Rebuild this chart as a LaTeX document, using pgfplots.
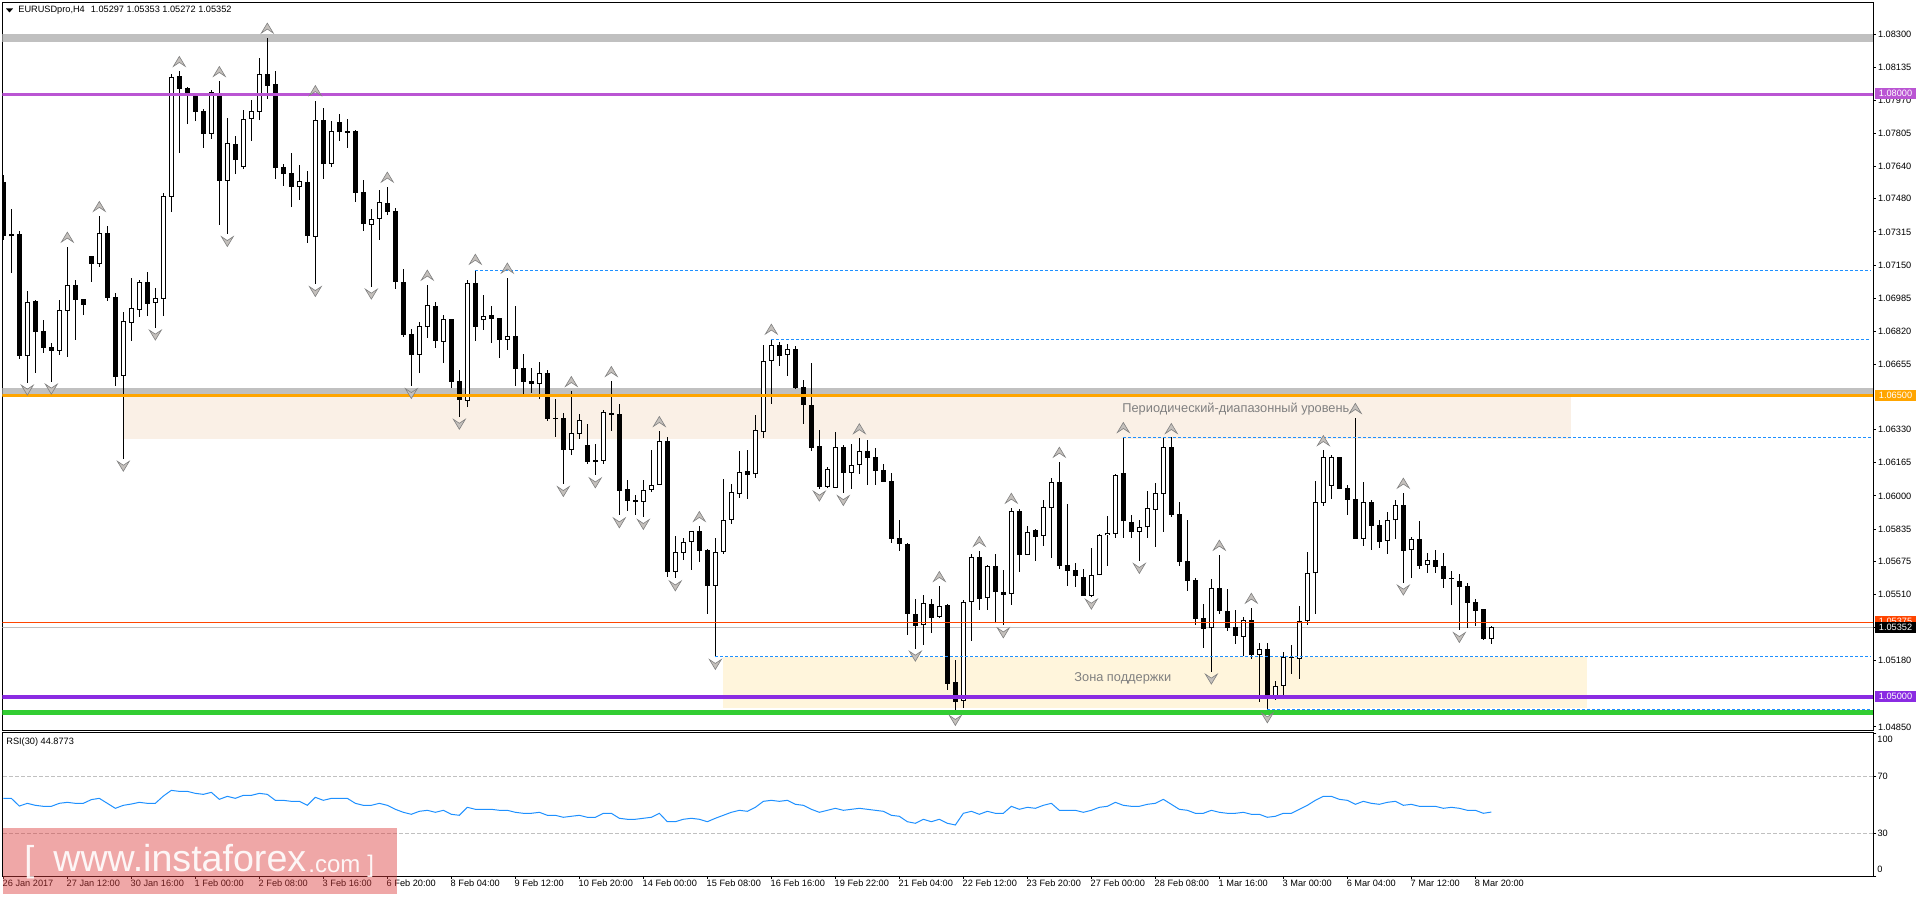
\documentclass[border=0pt]{standalone}
\usepackage{fontspec}
\setmainfont{Liberation Sans}
\usepackage{pgfplots}
\usepackage{pgfplotstable}
\pgfplotsset{compat=1.18}
\definecolor{peach}{HTML}{FAF0E6}
\definecolor{cream}{HTML}{FFF5DC}
\definecolor{band}{HTML}{C0C0C0}
\definecolor{orchidl}{HTML}{BA55D3}
\definecolor{orangel}{HTML}{FFA500}
\definecolor{violetl}{HTML}{8A2BE2}
\definecolor{greenl}{HTML}{32CD32}
\definecolor{redl}{HTML}{FF4500}
\definecolor{dodger}{HTML}{1E90FF}
\definecolor{wm}{HTML}{DC3C3C}
\definecolor{fdark}{HTML}{808080}
\definecolor{flight}{HTML}{C4C0BC}
% fractal arrows
\pgfdeclareplotmark{fup}{%
 \pgfpathmoveto{\pgfqpoint{0pt}{2.6pt}}\pgfpathlineto{\pgfqpoint{-3pt}{-2.4pt}}%
 \pgfpathlineto{\pgfqpoint{0pt}{-0.4pt}}\pgfpathlineto{\pgfqpoint{3pt}{-2.4pt}}\pgfpathclose\pgfusepathqfillstroke}
\pgfdeclareplotmark{fdown}{%
 \pgfpathmoveto{\pgfqpoint{0pt}{-2.6pt}}\pgfpathlineto{\pgfqpoint{-3pt}{2.4pt}}%
 \pgfpathlineto{\pgfqpoint{0pt}{0.4pt}}\pgfpathlineto{\pgfqpoint{3pt}{2.4pt}}\pgfpathclose\pgfusepathqfillstroke}
% i high bodytop bodybottom low  (white candles: open=bodybottom, close=bodytop)
\pgfplotstableread{
i h t b l
1 1.07429 1.07303 1.07293 1.07112
3 1.07021 1.06964 1.06699 1.06564
7 1.06976 1.06925 1.06724 1.06704
8 1.07240 1.07049 1.06923 1.06694
12 1.07394 1.07308 1.07157 1.07142
15 1.06916 1.06870 1.06599 1.06183
16 1.07086 1.06935 1.06863 1.06773
17 1.07076 1.07064 1.06928 1.06893
19 1.07036 1.06984 1.06963 1.06837
20 1.07507 1.07492 1.06983 1.06896
21 1.08101 1.08085 1.07491 1.07414
26 1.08022 1.08012 1.07804 1.07778
28 1.07882 1.07756 1.07570 1.07305
30 1.07922 1.07876 1.07640 1.07628
31 1.07972 1.07916 1.07879 1.07768
32 1.08181 1.08100 1.07914 1.07872
37 1.07648 1.07567 1.07540 1.07474
39 1.07967 1.07871 1.07291 1.07056
41 1.07867 1.07816 1.07655 1.07638
46 1.07429 1.07378 1.07351 1.07041
47 1.07524 1.07462 1.07381 1.07275
52 1.06866 1.06845 1.06704 1.06612
53 1.07051 1.06949 1.06843 1.06787
55 1.06901 1.06880 1.06769 1.06662
58 1.07076 1.07059 1.06475 1.06443
60 1.07001 1.06898 1.06875 1.06827
63 1.07086 1.06795 1.06779 1.06727
67 1.06668 1.06611 1.06560 1.06483
71 1.06523 1.06312 1.06229 1.06204
72 1.06409 1.06377 1.06311 1.06284
75 1.06429 1.06417 1.06176 1.06160
80 1.06080 1.06029 1.05972 1.05896
81 1.06229 1.06053 1.06029 1.06020
82 1.06324 1.06273 1.06057 1.06055
84 1.05801 1.05720 1.05623 1.05592
85 1.05791 1.05770 1.05718 1.05682
86 1.05826 1.05824 1.05770 1.05632
89 1.05791 1.05720 1.05554 1.05198
90 1.06085 1.05879 1.05723 1.05711
91 1.06060 1.06019 1.05882 1.05861
92 1.06224 1.06118 1.06012 1.05990
94 1.06404 1.06327 1.06107 1.06090
95 1.06752 1.06671 1.06321 1.06289
96 1.06777 1.06751 1.06674 1.06458
98 1.06757 1.06731 1.06701 1.06598
103 1.06145 1.06133 1.06045 1.06040
104 1.06319 1.06243 1.06042 1.06040
106 1.06259 1.06153 1.06115 1.06035
107 1.06289 1.06223 1.06153 1.06110
115 1.05507 1.05466 1.05355 1.05258
117 1.05552 1.05451 1.05399 1.05393
120 1.05482 1.05471 1.04978 1.04943
121 1.05711 1.05695 1.05471 1.05280
123 1.05657 1.05650 1.05491 1.05433
126 1.05939 1.05924 1.05511 1.05458
128 1.05851 1.05823 1.05708 1.05706
130 1.05980 1.05944 1.05800 1.05753
131 1.06090 1.06068 1.05939 1.05693
136 1.05741 1.05605 1.05504 1.05497
137 1.05811 1.05804 1.05605 1.05604
138 1.05901 1.05818 1.05804 1.05652
139 1.06110 1.06103 1.05813 1.05791
142 1.05881 1.05843 1.05823 1.05677
143 1.06025 1.05939 1.05843 1.05791
144 1.06065 1.06014 1.05932 1.05746
145 1.06292 1.06243 1.06012 1.05821
151 1.05587 1.05540 1.05340 1.05124
155 1.05398 1.05381 1.05300 1.05202
157 1.05268 1.05237 1.05210 1.04974
159 1.05079 1.05052 1.05004 1.04984
160 1.05223 1.05199 1.05056 1.05009
162 1.05453 1.05376 1.05190 1.05089
163 1.05721 1.05615 1.05375 1.05358
164 1.06075 1.05969 1.05615 1.05413
165 1.06229 1.06193 1.05967 1.05951
166 1.06205 1.06193 1.06052 1.05985
170 1.06070 1.05969 1.05788 1.05751
173 1.05921 1.05879 1.05776 1.05711
174 1.05980 1.05954 1.05878 1.05786
176 1.05796 1.05785 1.05733 1.05592
178 1.05716 1.05680 1.05655 1.05617
186 1.05353 1.05346 1.05290 1.05263
}\upbars
% black candles: open=bodytop, close=bodybottom
\pgfplotstableread{
i h t b l
0 1.07599 1.07562 1.07295 1.07275
2 1.07320 1.07305 1.06699 1.06684
4 1.06976 1.06971 1.06818 1.06614
5 1.06876 1.06822 1.06739 1.06714
6 1.06764 1.06742 1.06724 1.06569
9 1.07076 1.07051 1.06978 1.06777
10 1.06981 1.06981 1.06953 1.06901
11 1.07195 1.07195 1.07155 1.07066
13 1.07345 1.07310 1.06986 1.06971
14 1.07009 1.06991 1.06593 1.06548
18 1.07115 1.07064 1.06958 1.06896
22 1.08116 1.08092 1.08027 1.07708
23 1.08037 1.08032 1.08005 1.07852
24 1.08005 1.07992 1.07914 1.07867
25 1.07927 1.07916 1.07804 1.07733
27 1.08067 1.07992 1.07569 1.07350
29 1.07793 1.07751 1.07673 1.07603
33 1.08281 1.08100 1.08042 1.07977
34 1.08116 1.08052 1.07633 1.07579
35 1.07653 1.07638 1.07603 1.07544
36 1.07708 1.07608 1.07539 1.07439
38 1.07618 1.07564 1.07295 1.07260
40 1.07932 1.07872 1.07653 1.07579
42 1.07902 1.07862 1.07813 1.07768
43 1.07877 1.07816 1.07808 1.07733
44 1.07823 1.07818 1.07509 1.07464
45 1.07574 1.07514 1.07354 1.07320
48 1.07539 1.07459 1.07414 1.07399
49 1.07434 1.07419 1.07066 1.07031
50 1.07130 1.07066 1.06802 1.06792
51 1.06832 1.06807 1.06702 1.06548
54 1.06966 1.06944 1.06772 1.06737
56 1.06881 1.06881 1.06568 1.06538
57 1.06627 1.06573 1.06480 1.06393
59 1.07125 1.07061 1.06843 1.06772
61 1.06946 1.06900 1.06883 1.06762
62 1.06887 1.06885 1.06779 1.06688
64 1.06946 1.06795 1.06634 1.06548
65 1.06707 1.06638 1.06568 1.06503
66 1.06638 1.06573 1.06560 1.06513
68 1.06628 1.06613 1.06384 1.06374
69 1.06483 1.06389 1.06385 1.06294
70 1.06414 1.06387 1.06229 1.06060
73 1.06359 1.06254 1.06170 1.06160
74 1.06259 1.06180 1.06171 1.06105
76 1.06573 1.06414 1.06405 1.06324
77 1.06458 1.06409 1.06025 1.05906
78 1.06080 1.06035 1.05975 1.05926
79 1.06005 1.05979 1.05972 1.05906
83 1.06294 1.06274 1.05622 1.05597
87 1.05851 1.05826 1.05726 1.05672
88 1.05736 1.05731 1.05552 1.05413
93 1.06229 1.06125 1.06105 1.05985
97 1.06767 1.06752 1.06697 1.06648
99 1.06747 1.06732 1.06538 1.06533
100 1.06578 1.06543 1.06454 1.06359
101 1.06663 1.06454 1.06239 1.06224
102 1.06329 1.06249 1.06045 1.06035
105 1.06254 1.06244 1.06115 1.06015
108 1.06279 1.06224 1.06190 1.06055
109 1.06239 1.06195 1.06125 1.06055
110 1.06160 1.06130 1.06070 1.06070
111 1.06115 1.06075 1.05786 1.05766
112 1.05881 1.05791 1.05761 1.05726
113 1.05766 1.05761 1.05413 1.05308
114 1.05487 1.05413 1.05353 1.05238
116 1.05487 1.05462 1.05393 1.05318
118 1.05462 1.05458 1.05064 1.05034
119 1.05184 1.05074 1.04974 1.04920
122 1.05726 1.05695 1.05489 1.05433
124 1.05711 1.05650 1.05524 1.05366
125 1.05632 1.05521 1.05509 1.05358
127 1.05934 1.05924 1.05708 1.05622
129 1.05834 1.05829 1.05798 1.05677
132 1.06170 1.06068 1.05653 1.05637
133 1.05960 1.05655 1.05628 1.05554
134 1.05667 1.05630 1.05599 1.05547
135 1.05637 1.05595 1.05504 1.05502
140 1.06292 1.06113 1.05873 1.05791
141 1.05906 1.05869 1.05821 1.05791
146 1.06292 1.06243 1.05906 1.05896
147 1.05970 1.05909 1.05672 1.05652
148 1.05881 1.05675 1.05579 1.05527
149 1.05592 1.05582 1.05388 1.05358
150 1.05462 1.05391 1.05338 1.05243
152 1.05706 1.05540 1.05428 1.05413
153 1.05537 1.05428 1.05343 1.05330
154 1.05433 1.05348 1.05303 1.05263
156 1.05443 1.05381 1.05207 1.05189
158 1.05267 1.05237 1.05001 1.04935
161 1.05258 1.05200 1.05197 1.05114
167 1.06195 1.06193 1.06035 1.06034
168 1.06055 1.06039 1.05980 1.05906
169 1.06389 1.05984 1.05786 1.05786
171 1.05980 1.05969 1.05851 1.05731
172 1.05881 1.05856 1.05771 1.05741
175 1.06015 1.05954 1.05726 1.05567
177 1.05876 1.05785 1.05652 1.05637
179 1.05731 1.05680 1.05647 1.05617
180 1.05716 1.05652 1.05587 1.05542
181 1.05627 1.05592 1.05589 1.05457
182 1.05612 1.05577 1.05547 1.05333
183 1.05567 1.05552 1.05467 1.05343
184 1.05487 1.05472 1.05428 1.05353
185 1.05438 1.05438 1.05288 1.05283
}\downbars
\pgfplotstableread{
i p
12 1.07441
8 1.07288
22 1.08163
27 1.08113
33 1.08329
39 1.08018
48 1.07587
53 1.07099
59 1.07178
63 1.07134
71 1.06569
76 1.06619
82 1.06370
87 1.05897
96 1.06830
107 1.06334
117 1.05598
122 1.05773
126 1.05988
132 1.06217
140 1.06340
146 1.06335
152 1.05754
156 1.05490
165 1.06275
169 1.06435
175 1.06063
}\fractup
\pgfplotstableread{
i p
3 1.06528
6 1.06533
15 1.06149
19 1.06802
28 1.07268
39 1.07019
46 1.07006
51 1.06511
57 1.06358
70 1.06023
74 1.06066
77 1.05867
80 1.05859
84 1.05553
89 1.05162
102 1.06000
105 1.05978
114 1.05203
119 1.04883
125 1.05319
136 1.05462
142 1.05640
151 1.05089
158 1.04896
175 1.05532
182 1.05296
}\fractdown
\pgfplotstableread{
i v
0 54.5
1 54.5
2 49.1
3 51.0
4 49.6
5 48.9
6 48.9
7 51.0
8 51.7
9 51.0
10 51.0
11 53.6
12 54.5
13 51.0
14 47.5
15 49.6
16 50.5
17 51.7
18 51.0
19 51.0
20 56.1
21 60.1
22 59.4
23 59.4
24 58.0
25 57.3
26 58.7
27 53.8
28 55.9
29 54.5
30 56.6
31 56.6
32 58.0
33 57.3
34 53.1
35 53.1
36 52.4
37 52.4
38 49.6
39 55.2
40 53.1
41 54.5
42 54.5
43 54.5
44 51.0
45 49.6
46 49.6
47 51.0
48 49.6
49 46.8
50 44.7
51 43.3
52 45.4
53 46.1
54 44.7
55 46.1
56 43.3
57 42.6
58 48.2
59 46.8
60 46.8
61 46.8
62 46.1
63 46.1
64 44.7
65 44.0
66 44.0
67 44.7
68 42.6
69 42.6
70 41.2
71 41.9
72 42.6
73 41.2
74 41.2
75 44.0
76 44.0
77 40.5
78 39.8
79 39.8
80 40.5
81 41.2
82 44.0
83 38.1
84 38.1
85 39.8
86 40.5
87 39.8
88 38.1
89 40.5
90 42.6
91 44.7
92 46.1
93 45.4
94 48.2
95 52.4
96 53.1
97 52.4
98 53.1
99 50.3
100 49.6
101 46.8
102 44.7
103 46.1
104 47.5
105 46.1
106 46.8
107 47.5
108 46.8
109 46.1
110 45.4
111 42.6
112 41.9
113 38.1
114 37.0
115 39.8
116 38.1
117 39.8
118 37.0
119 35.8
120 44.0
121 45.4
122 43.3
123 45.4
124 44.0
125 44.0
126 48.9
127 46.8
128 48.2
129 47.5
130 49.6
131 51.0
132 46.1
133 46.1
134 46.1
135 44.7
136 46.1
137 48.2
138 48.9
139 51.7
140 49.6
141 48.9
142 48.9
143 50.3
144 51.0
145 53.8
146 50.3
147 46.8
148 46.1
149 44.0
150 44.0
151 46.1
152 44.7
153 44.0
154 44.0
155 44.7
156 43.3
157 43.3
158 41.2
159 41.9
160 44.0
161 44.0
162 46.8
163 49.6
164 53.1
165 55.9
166 55.9
167 53.8
168 53.1
169 50.3
170 52.4
171 51.0
172 50.3
173 51.7
174 52.4
175 49.6
176 50.3
177 48.9
178 48.9
179 48.9
180 47.5
181 48.2
182 47.5
183 46.1
184 46.1
185 44.0
186 44.88
}\rsi
\newcommand{\tf}{\fontsize{4.6}{5.5}\selectfont}
\pgfplotsset{
 wick/.style={draw=none,mark=none,forget plot,
  error bars/.cd,y dir=plus,y explicit,error mark=none,
  error bar style={draw=black,line width=0.5pt,solid}},
 bodyb/.style={draw=none,mark=none,forget plot,
  error bars/.cd,y dir=plus,y explicit,error mark=none,
  error bar style={draw=black,line width=2.5pt,solid}},
 bodyw/.style={draw=none,mark=none,forget plot,
  error bars/.cd,y dir=plus,y explicit,error mark=none,
  error bar style={draw=white,line width=1.5pt,solid}},
 frac/.style={only marks,mark=#1,forget plot,mark size=3pt,draw=fdark,fill=flight,line width=0.3pt,
  mark options={draw=fdark,fill=flight,line width=0.3pt,solid}},
}
\begin{document}
\begin{tikzpicture}
\path[use as bounding box] (0,0) rectangle (958pt,-448.5pt);
\begin{axis}[
 at={(1.25pt,-365.35pt)},anchor=south west,scale only axis,
 width=935.4pt,height=364.1pt,
 xmin=-0.104,xmax=233.746,ymin=1.04831,ymax=1.084575,
 xtick=\empty,
 ytick={1.083,1.08135,1.0797,1.07805,1.0764,1.0748,1.07315,1.0715,1.06985,1.0682,1.06655,1.0633,1.06165,1.06,1.05835,1.05675,1.0551,1.05345,1.0518,1.0485},
 yticklabels={1.08300,1.08135,1.07970,1.07805,1.07640,1.07480,1.07315,1.07150,1.06985,1.06820,1.06655,1.06330,1.06165,1.06000,1.05835,1.05675,1.05510,1.05345,1.05180,1.04850},
 ytick pos=right,yticklabel pos=right,tick align=outside,major tick length=1.25pt,
 tick style={black,line width=0.5pt},
 axis line style={line width=0.5pt},
 yticklabel style={font=\tf,anchor=west,inner sep=0pt,xshift=0.9pt,text=black},
 scaled y ticks=false,
]
% background zones
\addplot[fill=peach,draw=none,forget plot] coordinates {(15,1.065) (196,1.065) (196,1.06285) (15,1.06285)} --cycle;
\addplot[fill=cream,draw=none,forget plot] coordinates {(90,1.052) (198,1.052) (198,1.04945) (90,1.04945)} --cycle;
% thick silver bands
\addplot[band,line width=4pt,forget plot] coordinates {(-0.104,1.08281) (233.746,1.08281)};
\addplot[band,line width=4pt,forget plot] coordinates {(-0.104,1.0652) (233.746,1.0652)};
\addplot[band,line width=0.5pt,forget plot] coordinates {(-0.104,1.05346) (233.746,1.05346)};
% wicks
\addplot[wick] table[x=i,y=l,y error plus expr=\thisrow{h}-\thisrow{l}] {\upbars};
\addplot[wick] table[x=i,y=l,y error plus expr=\thisrow{h}-\thisrow{l}] {\downbars};
% bodies
\addplot[bodyb] table[x=i,y=b,y error plus expr=\thisrow{t}-\thisrow{b}] {\downbars};
\addplot[bodyb] table[x=i,y=b,y error plus expr=\thisrow{t}-\thisrow{b}] {\upbars};
\addplot[bodyw] table[x=i,y expr=\thisrow{b}+0.00005,y error plus expr={max(\thisrow{t}-\thisrow{b}-0.0001,0)}] {\upbars};
% fractals
\addplot[frac=fup] table[x=i,y=p] {\fractup};
\addplot[frac=fdown] table[x=i,y=p] {\fractdown};
% level lines on top
\addplot[orchidl,line width=1.5pt,forget plot] coordinates {(-0.104,1.08) (233.746,1.08)};
\addplot[orangel,line width=1.5pt,forget plot] coordinates {(-0.104,1.065) (233.746,1.065)};
\addplot[violetl,line width=2pt,forget plot] coordinates {(-0.104,1.05) (233.746,1.05)};
\addplot[greenl,line width=2.5pt,forget plot] coordinates {(-0.104,1.04922) (233.746,1.04922)};
\addplot[redl,line width=0.5pt,forget plot] coordinates {(-0.104,1.0537) (233.746,1.0537)};
% dotted blue levels
\addplot[dodger,line width=0.5pt,dash pattern=on 1.5pt off 1pt,forget plot] coordinates {(59,1.07124) (233.5,1.07124)};
\addplot[dodger,line width=0.5pt,dash pattern=on 1.5pt off 1pt,forget plot] coordinates {(96,1.0678) (233.5,1.0678)};
\addplot[dodger,line width=0.5pt,dash pattern=on 1.5pt off 1pt,forget plot] coordinates {(140,1.06292) (233.5,1.06292)};
\addplot[dodger,line width=0.5pt,dash pattern=on 1.5pt off 1pt,forget plot] coordinates {(89,1.052) (233.5,1.052)};
\addplot[dodger,line width=0.5pt,dash pattern=on 1.5pt off 1pt,forget plot] coordinates {(158,1.04938) (233.5,1.04938)};
\end{axis}
\begin{axis}[
 at={(1.25pt,-438pt)},anchor=south west,scale only axis,
 width=935.4pt,height=71.65pt,
 xmin=-0.104,xmax=233.746,ymin=0,ymax=100.56,
 xtick={0,8,...,184},
 xticklabels={26 Jan 2017,27 Jan 12:00,30 Jan 16:00,1 Feb 00:00,2 Feb 08:00,3 Feb 16:00,6 Feb 20:00,8 Feb 04:00,9 Feb 12:00,10 Feb 20:00,14 Feb 00:00,15 Feb 08:00,16 Feb 16:00,19 Feb 22:00,21 Feb 04:00,22 Feb 12:00,23 Feb 20:00,27 Feb 00:00,28 Feb 08:00,1 Mar 16:00,3 Mar 00:00,6 Mar 04:00,7 Mar 12:00,8 Mar 20:00},
 xtick pos=bottom,ytick pos=right,yticklabel pos=right,tick align=outside,
 major tick length=1.5pt,
 tick style={black,line width=0.5pt},
 axis line style={line width=0.5pt},
 ytick={0,30,70,100},yticklabels={{},30,70,{}},
 yticklabel style={font=\tf,anchor=west,inner sep=0pt,xshift=0.4pt},
 xticklabel style={font=\tf,anchor=north west,inner sep=0pt,xshift=-0.5pt,yshift=-0.2pt},
]
\addplot[band,line width=0.5pt,dash pattern=on 2pt off 1pt,forget plot] coordinates {(0,70) (233.746,70)};
\addplot[band,line width=0.5pt,dash pattern=on 2pt off 1pt,forget plot] coordinates {(0,30) (233.746,30)};
\addplot[dodger,line width=0.5pt,forget plot] table[x=i,y=v] {\rsi};
\end{axis}
\begin{scope}[x=0.5pt,y=-0.5pt]
% price tags
\tikzset{tag/.style={inner sep=0pt,minimum width=20.5pt,minimum height=5.4pt,text=white,font=\tf}}
\node[tag,fill=orchidl] at (1895.5,93.6) {1.08000};
\node[tag,fill=orangel] at (1895.5,395.5) {1.06500};
\node[tag,fill=redl] at (1895.5,621.8) {1.05375};
\node[tag,fill=black] at (1895.5,627.5) {1.05352};
\node[tag,fill=violetl] at (1895.5,696.5) {1.05000};
\node[font=\tf,anchor=west,inner sep=0pt] at (1877,739.3) {100};
\node[font=\tf,anchor=west,inner sep=0pt] at (1877,869.5) {0};
% headers
\fill (6,8.5) -- (13,8.5) -- (9.5,12.5) -- cycle;
\node[font=\tf,anchor=west,inner sep=0pt] at (18,10.5) {EURUSDpro,H4\hspace{3pt}1.05297 1.05353 1.05272 1.05352};
\node[font=\tf,anchor=west,inner sep=0pt] at (6,741.7) {RSI(30) 44.8773};
% zone captions
\node[font=\fontsize{6.4}{7}\selectfont,text=gray,anchor=west,inner sep=0pt] at (1122,409.3) {Периодический-диапазонный уровень};
\node[font=\fontsize{6.4}{7}\selectfont,text=gray,anchor=west,inner sep=0pt] at (1074,678.3) {Зона поддержки};
% watermark
\fill[wm,opacity=0.45] (3.3,828) rectangle (397,894);
\node[font=\fontsize{18.8}{20}\selectfont,text=white,opacity=0.9,anchor=base west,inner sep=0pt] at (53,871.7) {www.instaforex};
\node[font=\fontsize{12}{13}\selectfont,text=white,opacity=0.9,anchor=base west,inner sep=0pt] at (308,872.7) {.com};
\node[font=\fontsize{18}{20}\selectfont,text=white,opacity=0.9,anchor=base west,inner sep=0pt] at (24,871) {[};
\node[font=\fontsize{12}{13}\selectfont,text=white,opacity=0.9,anchor=base west,inner sep=0pt] at (367,872.7) {]};
\end{scope}
\end{tikzpicture}
\end{document}
